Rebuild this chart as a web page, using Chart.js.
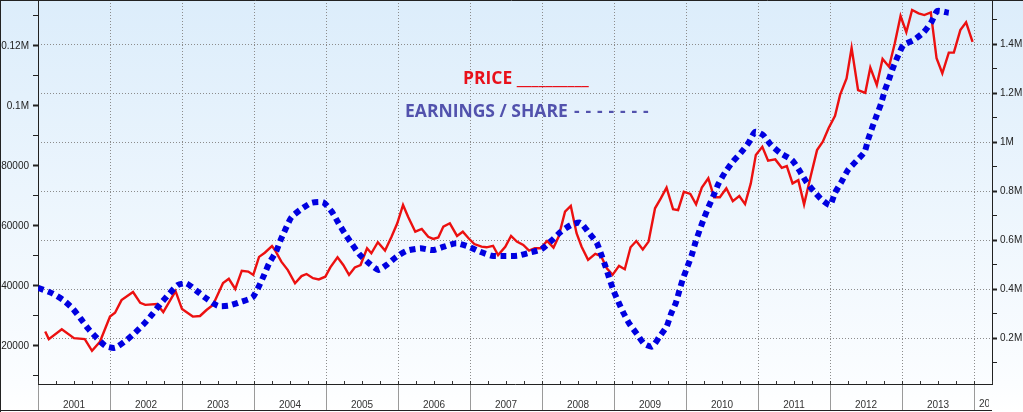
<!DOCTYPE html>
<html>
<head>
<meta charset="utf-8">
<script src="https://cdn.jsdelivr.net/npm/chart.js@4.4.1/dist/chart.umd.min.js"></script>
<style>
  html, body { margin: 0; padding: 0; background: #fff; }
  #wrap { width: 1023px; height: 412px; }
</style>
</head>
<body>
<div id="wrap"><canvas id="chart" width="1023" height="412"></canvas></div>
<script>
// price (left axis); dates are decimal years
const priceDates = [
  2001.10, 2001.15, 2001.33, 2001.50, 2001.65, 2001.75, 2001.86,
  2002.00, 2002.07, 2002.16, 2002.32, 2002.42, 2002.49, 2002.65, 2002.74, 2002.91,
  2003.00, 2003.15, 2003.25, 2003.34, 2003.43, 2003.57, 2003.65, 2003.74, 2003.83, 2003.92, 2003.99,
  2004.07, 2004.15, 2004.25, 2004.29, 2004.38, 2004.47, 2004.57, 2004.66, 2004.73, 2004.82, 2004.90, 2004.99,
  2005.06, 2005.16, 2005.24, 2005.32, 2005.40, 2005.48, 2005.57, 2005.63, 2005.72, 2005.82, 2005.91, 2005.99,
  2006.07, 2006.14, 2006.24, 2006.33, 2006.42, 2006.49, 2006.56, 2006.63, 2006.72, 2006.82, 2006.90, 2006.98,
  2007.06, 2007.16, 2007.23, 2007.32, 2007.39, 2007.49, 2007.57, 2007.65, 2007.74, 2007.82, 2007.90, 2007.98,
  2008.07, 2008.16, 2008.23, 2008.32, 2008.40, 2008.48, 2008.55, 2008.64, 2008.74, 2008.82, 2008.90, 2008.98,
  2009.07, 2009.15, 2009.23, 2009.31, 2009.40, 2009.48, 2009.57, 2009.65, 2009.73, 2009.82, 2009.89, 2009.97,
  2010.06, 2010.14, 2010.22, 2010.31, 2010.39, 2010.47, 2010.56, 2010.65, 2010.74, 2010.82, 2010.90, 2010.97,
  2011.06, 2011.14, 2011.24, 2011.33, 2011.40, 2011.48, 2011.56, 2011.64, 2011.73, 2011.82, 2011.90, 2011.98,
  2012.07, 2012.14, 2012.23, 2012.30, 2012.39, 2012.49, 2012.56, 2012.65, 2012.73, 2012.82, 2012.90, 2012.98,
  2013.06, 2013.14, 2013.23, 2013.31, 2013.40, 2013.48, 2013.56, 2013.65, 2013.72, 2013.81, 2013.89, 2013.98,
];
const priceValues = [
  24800, 22300, 25600, 22600, 22300, 18400, 21400,
  29800, 31100, 35300, 38000, 34400, 33700, 34000, 31300, 38300,
  32300, 29800, 30000, 32000, 33700, 41000, 42400, 39000, 45100, 44800, 43700,
  49700, 51100, 53300, 52000, 48100, 45300, 40900, 43300, 44000, 42600, 42200, 43100,
  46200, 49600, 47000, 43700, 46200, 47000, 52600, 50900, 54600, 51800, 56400, 60900,
  67000, 63100, 58100, 59000, 56400, 55700, 56200, 59800, 60900, 56700, 58100, 55900,
  54000, 53100, 52900, 53400, 50300, 53100, 56700, 54800, 53700, 51800, 52600, 52600,
  55000, 52800, 56400, 64800, 66700, 57600, 53100, 48700, 50700, 50000, 45900, 43700,
  46700, 45600, 52900, 55000, 52200, 54800, 65900, 69200, 72800, 65600, 65300, 71400,
  70700, 67200, 72800, 75900, 69600, 69600, 72600, 68300, 70000, 67300, 74200, 83700,
  86400, 81800, 82200, 79400, 80000, 74200, 75300, 67200, 76400, 85300, 88100, 92600,
  96700, 103700, 109200, 119400, 105300, 104400, 112800, 107000, 115700, 113100, 120900, 130000,
  124600, 132000, 130900, 130300, 131200, 115900, 110900, 117800, 117800, 125300, 127900, 121400,
];

// earnings / share (right axis, in millions)
const epsDates = [
  2001.00, 2001.20, 2001.35, 2001.48, 2001.59, 2001.70, 2001.82, 2001.94, 2002.07, 2002.22,
  2002.35, 2002.48, 2002.59, 2002.70, 2002.82, 2002.94, 2003.06, 2003.20, 2003.35, 2003.50,
  2003.66, 2003.82, 2003.98, 2004.07, 2004.14, 2004.21, 2004.31, 2004.37, 2004.44, 2004.52,
  2004.65, 2004.80, 2004.96, 2005.08, 2005.17, 2005.26, 2005.36, 2005.46, 2005.59, 2005.73,
  2005.84, 2005.98, 2006.12, 2006.31, 2006.48, 2006.64, 2006.81, 2006.98, 2007.14, 2007.30,
  2007.49, 2007.66, 2007.82, 2007.99, 2008.13, 2008.26, 2008.40, 2008.53, 2008.65, 2008.76,
  2008.82, 2008.88, 2008.93, 2008.99, 2009.06, 2009.13, 2009.21, 2009.32, 2009.42, 2009.53,
  2009.63, 2009.73, 2009.79, 2009.86, 2009.91, 2009.96, 2010.02, 2010.08, 2010.13, 2010.19,
  2010.25, 2010.31, 2010.38, 2010.45, 2010.54, 2010.65, 2010.76, 2010.87, 2010.96, 2011.07,
  2011.18, 2011.31, 2011.47, 2011.57, 2011.67, 2011.77, 2011.88, 2012.00, 2012.07, 2012.16,
  2012.25, 2012.37, 2012.48, 2012.53, 2012.59, 2012.65, 2012.71, 2012.76, 2012.82, 2012.88,
  2012.95, 2013.02, 2013.16, 2013.30, 2013.41, 2013.49, 2013.65,
];
const epsValues = [
  0.405, 0.382, 0.355, 0.321, 0.280, 0.237, 0.199, 0.167, 0.160, 0.189,
  0.222, 0.260, 0.298, 0.339, 0.380, 0.416, 0.423, 0.393, 0.359, 0.331,
  0.333, 0.348, 0.366, 0.412, 0.457, 0.505, 0.555, 0.600, 0.646, 0.693,
  0.725, 0.752, 0.754, 0.716, 0.671, 0.627, 0.584, 0.543, 0.507, 0.478,
  0.498, 0.532, 0.556, 0.566, 0.559, 0.573, 0.587, 0.573, 0.552, 0.536,
  0.535, 0.536, 0.548, 0.562, 0.597, 0.633, 0.661, 0.671, 0.630, 0.589,
  0.543, 0.494, 0.448, 0.396, 0.348, 0.303, 0.260, 0.216, 0.176, 0.165,
  0.205, 0.246, 0.297, 0.344, 0.396, 0.444, 0.491, 0.539, 0.589, 0.641,
  0.689, 0.733, 0.780, 0.829, 0.875, 0.920, 0.956, 0.997, 1.042, 1.029,
  0.988, 0.955, 0.927, 0.886, 0.838, 0.801, 0.766, 0.743, 0.793, 0.838,
  0.886, 0.924, 0.960, 1.011, 1.062, 1.110, 1.158, 1.209, 1.257, 1.307,
  1.355, 1.396, 1.416, 1.448, 1.491, 1.535, 1.528,
];

// left axis tick values (labels every second one)
const priceTicks = [10000, 20000, 30000, 40000, 50000, 60000, 70000, 80000, 90000, 100000, 110000, 120000, 130000];

const xMin = 2001;
const xMax = 2014.25;
const tickFont = { family: "'Liberation Sans', Arial, sans-serif", size: 10 };
const gridColor = "#8c8c8c";

function toPoints(xs, ys) {
  return xs.map((x, i) => ({ x: x, y: ys[i] }));
}

function isWhole(v) {
  return Math.abs(v - Math.round(v)) < 1e-6;
}

const backdrop = {
  id: "backdrop",
  beforeDraw(chart) {
    const ctx = chart.ctx;
    const g = ctx.createLinearGradient(0, 0, 0, chart.height);
    g.addColorStop(0, "#dcedfb");
    g.addColorStop(0.93, "#fbfdff");
    g.addColorStop(1, "#ffffff");
    ctx.save();
    ctx.fillStyle = g;
    ctx.fillRect(0, 0, chart.width, chart.height);
    ctx.restore();
  },
};

const decor = {
  id: "decor",
  afterDraw(chart) {
    const ctx = chart.ctx;
    const area = chart.chartArea;
    const x = chart.scales.x;
    ctx.save();

    // little quarter marks sitting on the time axis
    ctx.strokeStyle = "#333";
    ctx.lineWidth = 1;
    for (let t = xMin; t <= xMax + 1e-6; t += 0.25) {
      const px = Math.round(x.getPixelForValue(t)) + 0.5;
      ctx.beginPath();
      ctx.moveTo(px, area.bottom);
      ctx.lineTo(px, area.bottom - 3);
      ctx.stroke();
    }

    // last year label is cut by the right edge
    ctx.save();
    ctx.beginPath();
    ctx.rect(x.getPixelForValue(2014), area.bottom, 15, 30);
    ctx.clip();
    ctx.fillStyle = "#333";
    ctx.font = "10px 'Liberation Sans', Arial, sans-serif";
    ctx.textBaseline = "top";
    ctx.fillText("2014", x.getPixelForValue(2014) + 5, 399);
    ctx.restore();

    // frame
    ctx.strokeStyle = "#222";
    ctx.beginPath();
    ctx.moveTo(0, 0.5);
    ctx.lineTo(chart.width, 0.5);
    ctx.moveTo(0.5, 0);
    ctx.lineTo(0.5, chart.height);
    ctx.moveTo(0, 410.5);
    ctx.lineTo(area.right, 410.5);
    ctx.stroke();

    // hand written legend
    ctx.font = "bold 17.5px 'Open Sans', sans-serif";
    ctx.textBaseline = "alphabetic";
    ctx.fillStyle = "#e8101a";
    ctx.fillText("PRICE __________", 463, 84);
    ctx.fillStyle = "#5252ad";
    ctx.fillText("EARNINGS / SHARE", 405, 117);
    for (let i = 0; i < 7; i++) {
      ctx.fillText("-", 574 + i * 11.5, 117);
    }

    ctx.restore();
  },
};

new Chart(document.getElementById("chart"), {
  type: "line",
  data: {
    datasets: [
      {
        label: "Price",
        data: toPoints(priceDates, priceValues),
        yAxisID: "y",
        borderColor: "#ec1010",
        borderWidth: 2.4,
        pointRadius: 0,
        tension: 0,
        order: 1,
      },
      {
        label: "Earnings / Share",
        data: toPoints(epsDates, epsValues),
        yAxisID: "y2",
        borderColor: "#0000e0",
        borderWidth: 6,
        borderDash: [6, 4.5],
        borderCapStyle: "butt",
        pointRadius: 0,
        tension: 0.2,
        order: 0,
      },
    ],
  },
  options: {
    responsive: false,
    animation: false,
    devicePixelRatio: 1,
    layout: { padding: 0 },
    plugins: {
      legend: { display: false },
      tooltip: { enabled: false },
    },
    scales: {
      x: {
        type: "linear",
        min: xMin,
        max: xMax,
        afterFit(scale) {
          scale.height = 28;
          scale.paddingLeft = 0;
          scale.paddingRight = 0;
        },
        ticks: {
          stepSize: 0.25,
          autoSkip: false,
          maxRotation: 0,
          minRotation: 0,
          padding: -11,
          color: "#333",
          font: tickFont,
          callback: (v) => (Math.abs(v - Math.floor(v) - 0.5) < 1e-6 ? String(Math.floor(v)) : ""),
        },
        grid: {
          color: (c) => (c.tick && isWhole(c.tick.value) ? gridColor : "transparent"),
          tickColor: (c) => (c.tick && isWhole(c.tick.value) ? "#9a9a9a" : "transparent"),
          tickLength: 26,
          lineWidth: 1,
        },
        border: { display: true, color: "#222", width: 1, dash: [1, 2] },
      },
      y: {
        position: "left",
        min: 7333,
        max: 135333,
        afterBuildTicks(scale) {
          scale.ticks = priceTicks.map((v) => ({ value: v }));
        },
        afterFit(scale) {
          scale.width = 38;
          scale.paddingTop = 0;
          scale.paddingBottom = 0;
        },
        ticks: {
          autoSkip: false,
          padding: 4,
          color: "#222",
          font: tickFont,
          callback: (v) => {
            if (v % 20000 !== 0) return "";
            return v >= 100000 ? v / 1e6 + "M" : String(v);
          },
        },
        grid: {
          drawOnChartArea: false,
          tickLength: 5,
          tickColor: "#222",
          tickWidth: (c) => (c.tick && c.tick.value % 20000 === 0 ? 2 : 1),
        },
        border: { display: true, color: "#222", width: 1 },
      },
      y2: {
        position: "right",
        min: 0.0122,
        max: 1.58,
        afterFit(scale) {
          scale.width = 31;
          scale.paddingTop = 0;
          scale.paddingBottom = 0;
        },
        ticks: {
          stepSize: 0.1,
          includeBounds: false,
          autoSkip: false,
          padding: 3,
          color: "#222",
          font: tickFont,
          callback: (v) => {
            const r = Math.round(v * 10);
            return r % 2 === 0 ? r / 10 + "M" : "";
          },
        },
        grid: {
          color: (c) => (c.tick && Math.round(c.tick.value * 10) % 2 === 0 ? gridColor : "transparent"),
          tickLength: 5,
          tickColor: "#222",
          tickWidth: (c) => (c.tick && Math.round(c.tick.value * 10) % 2 === 0 ? 2 : 1),
        },
        border: { display: true, color: "#222", width: 1, dash: [1, 2] },
      },
    },
  },
  plugins: [backdrop, decor],
});
</script>
</body>
</html>
